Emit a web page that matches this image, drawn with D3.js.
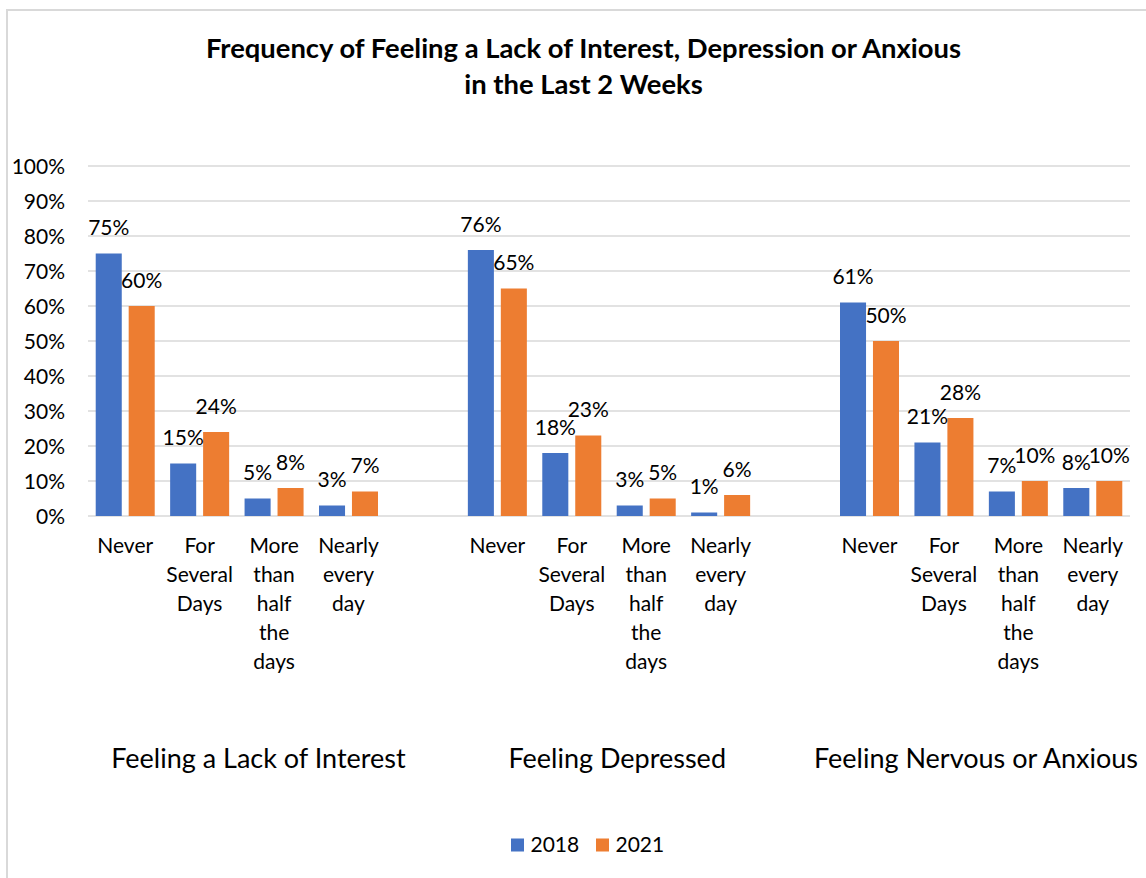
<!DOCTYPE html>
<html>
<head>
<meta charset="utf-8">
<script src="https://cdn.jsdelivr.net/npm/d3@7"></script>
<style>
  html, body { margin: 0; padding: 0; background: #fff; }
  svg { display: block; font-family: Lato, "Open Sans", sans-serif; }
</style>
</head>
<body>
<svg id="chart" width="1146" height="878"></svg>
<script>
// Survey groups and answer options
const groups = ["Feeling a Lack of Interest", "Feeling Depressed", "Feeling Nervous or Anxious"];
const answers = ["Never", "For Several Days", "More than half the days", "Nearly every day"];
const answerLines = [["Never"], ["For", "Several", "Days"], ["More", "than", "half", "the", "days"], ["Nearly", "every", "day"]];
const years = ["2018", "2021"];
const colors = ["#4472C4", "#ED7D31"];

// Share of respondents per answer, one row per group
const values2018 = [
  [0.75, 0.15, 0.05, 0.03],
  [0.76, 0.18, 0.03, 0.01],
  [0.61, 0.21, 0.07, 0.08]
];
const values2021 = [
  [0.60, 0.24, 0.08, 0.07],
  [0.65, 0.23, 0.05, 0.06],
  [0.50, 0.28, 0.10, 0.10]
];
const yTicks = [0, 0.1, 0.2, 0.3, 0.4, 0.5, 0.6, 0.7, 0.8, 0.9, 1.0];
const titleLines = ["Frequency of Feeling a Lack of Interest, Depression or Anxious", "in the Last 2 Weeks"];

const svg = d3.select("#chart");
const W = 1146, H = 878;
const plot = { left: 88, right: 1130, top: 166, bottom: 516 };

// Frame
svg.append("path")
  .attr("d", `M7,${H} L7,10 L${W},10`)
  .attr("fill", "none").attr("stroke", "#d9d9d9").attr("stroke-width", 2);

// Title
const title = svg.append("text")
  .attr("text-anchor", "middle")
  .attr("font-weight", 700).attr("font-size", 27.4).attr("fill", "#000");
titleLines.forEach((t, i) => {
  title.append("tspan").attr("x", 583.5).attr("y", 58 + i * 36).text(t);
});

// Each group holds four answer slots plus one empty spacer slot
const slots = d3.range(groups.length * (answers.length + 1) - 1);
const x = d3.scaleBand().domain(slots).range([plot.left, plot.right]).padding(0);
const xYear = d3.scaleBand().domain(years).range([-29.5, 29.5]).paddingInner(0.21);
const y = d3.scaleLinear().domain([0, 1]).range([plot.bottom, plot.top]);

// Gridlines
svg.append("g").selectAll("line").data(yTicks).join("line")
  .attr("x1", plot.left).attr("x2", plot.right)
  .attr("y1", d => y(d)).attr("y2", d => y(d))
  .attr("stroke", "#d9d9d9").attr("stroke-width", 1.5);

// Y tick labels
svg.append("g").selectAll("text").data(yTicks).join("text")
  .attr("x", 65).attr("y", d => y(d) + 7.5)
  .attr("text-anchor", "end").attr("font-size", 21).attr("fill", "#000")
  .text(d => d3.format(".0%")(d));

// Flatten into bar records
const bars = [];
groups.forEach((g, gi) => {
  answers.forEach((a, ai) => {
    const slot = gi * (answers.length + 1) + ai;
    bars.push({ slot, year: years[0], v: values2018[gi][ai], c: colors[0] });
    bars.push({ slot, year: years[1], v: values2021[gi][ai], c: colors[1] });
  });
});
const cx = d => x(d.slot) + x.bandwidth() / 2;

svg.append("g").selectAll("rect").data(bars).join("rect")
  .attr("x", d => cx(d) + xYear(d.year))
  .attr("width", xYear.bandwidth())
  .attr("y", d => y(d.v))
  .attr("height", d => y(0) - y(d.v))
  .attr("fill", d => d.c);

// Value labels above bars
svg.append("g").selectAll("text").data(bars).join("text")
  .attr("x", d => cx(d) + xYear(d.year) + xYear.bandwidth() / 2)
  .attr("y", d => y(d.v) - 18.5)
  .attr("text-anchor", "middle").attr("font-size", 21).attr("fill", "#000")
  .text(d => d3.format(".0%")(d.v));

// Answer labels (wrapped)
const catG = svg.append("g");
groups.forEach((g, gi) => {
  answerLines.forEach((lines, ai) => {
    const slot = gi * (answers.length + 1) + ai;
    const t = catG.append("text")
      .attr("text-anchor", "middle").attr("font-size", 21).attr("fill", "#000");
    lines.forEach((ln, li) => {
      t.append("tspan").attr("x", x(slot) + x.bandwidth() / 2).attr("y", 553 + li * 29).text(ln);
    });
  });
});

// Group labels
const xGroup = d3.scalePoint().domain(groups).range([258.5, 976]);
svg.append("g").selectAll("text").data(groups).join("text")
  .attr("x", d => xGroup(d)).attr("y", 768)
  .attr("text-anchor", "middle").attr("font-size", 27).attr("fill", "#000")
  .text(d => d);

// Legend
const legend = svg.append("g");
const legendX = [511, 596];
years.forEach((yr, i) => {
  legend.append("rect").attr("x", legendX[i]).attr("y", 838.5)
    .attr("width", 13).attr("height", 13).attr("fill", colors[i]);
  legend.append("text").attr("x", legendX[i] + 19.5).attr("y", 851.5)
    .attr("font-size", 21).attr("fill", "#000").text(yr);
});
</script>
</body>
</html>
